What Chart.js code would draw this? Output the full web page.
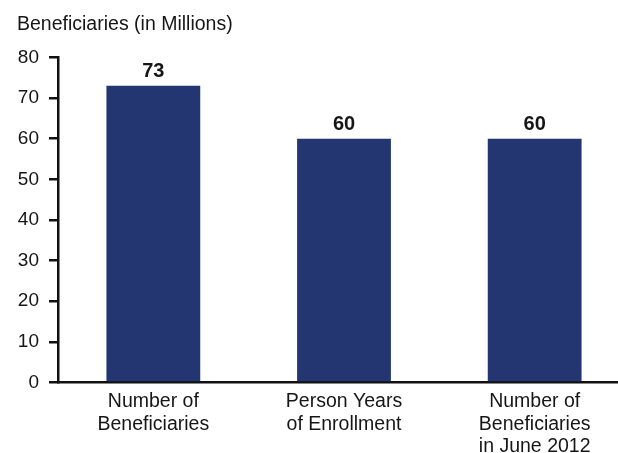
<!DOCTYPE html>
<html>
<head>
<meta charset="utf-8">
<script src="https://cdn.jsdelivr.net/npm/chart.js@4.4.1/dist/chart.umd.min.js"></script>
<style>
  html, body { margin: 0; padding: 0; background: #fff; overflow: hidden; }
  #wrap { width: 630px; height: 458px; }
</style>
</head>
<body>
<div id="wrap"><canvas id="myChart" width="630" height="458"></canvas></div>
<script>
// chart data
const categories = [
    ['Number of', 'Beneficiaries'],
    ['Person Years', 'of Enrollment'],
    ['Number of', 'Beneficiaries', 'in June 2012']
];
const beneficiaries = [73, 60, 60];
const yTicks = [0, 10, 20, 30, 40, 50, 60, 70, 80];

const fontFamily = '"Liberation Sans", Arial, Helvetica, sans-serif';

// draws the value above each bar
const valueLabels = {
    id: 'valueLabels',
    afterDatasetsDraw(chart) {
        const ctx = chart.ctx;
        const meta = chart.getDatasetMeta(0);
        ctx.save();
        ctx.font = 'bold 20px ' + fontFamily;
        ctx.fillStyle = '#161616';
        ctx.textAlign = 'center';
        ctx.textBaseline = 'alphabetic';
        meta.data.forEach((bar, i) => {
            ctx.fillText(beneficiaries[i], bar.x, bar.y - 9);
        });
        ctx.restore();
    }
};

var ctx = document.getElementById('myChart').getContext('2d');

var chart = new Chart(ctx, {
    type: 'bar',
    data: {
        labels: categories,
        datasets: [{
            data: beneficiaries,
            backgroundColor: '#233672',
            borderWidth: 0,
            barPercentage: 0.492,
            categoryPercentage: 1
        }]
    },
    options: {
        responsive: false,
        animation: false,
        layout: { padding: { left: 17, right: 0, top: 0, bottom: 0 } },
        plugins: {
            legend: { display: false },
            tooltip: { enabled: false },
            title: {
                display: true,
                text: 'Beneficiaries (in Millions)',
                align: 'start',
                color: '#161616',
                font: { family: fontFamily, size: 19.5, weight: 'normal', lineHeight: 1.2 },
                padding: { top: 13, bottom: 21 }
            }
        },
        scales: {
            x: {
                grid: { display: false },
                border: { color: '#111', width: 2.5 },
                ticks: {
                    color: '#161616',
                    padding: 0,
                    maxRotation: 0,
                    font: { family: fontFamily, size: 19.5, lineHeight: 1.155 }
                }
            },
            y: {
                min: 0,
                max: 80,
                afterBuildTicks: (axis) => { axis.ticks = yTicks.map(v => ({ value: v })); },
                afterFit: (axis) => { axis.width = 41; },
                grid: {
                    drawOnChartArea: false,
                    drawTicks: true,
                    tickLength: 9,
                    color: '#111',
                    lineWidth: 2.5
                },
                border: { color: '#111', width: 2.5 },
                ticks: {
                    color: '#161616',
                    padding: 10,
                    font: { family: fontFamily, size: 19 }
                }
            }
        }
    },
    plugins: [valueLabels]
});
</script>
</body>
</html>
